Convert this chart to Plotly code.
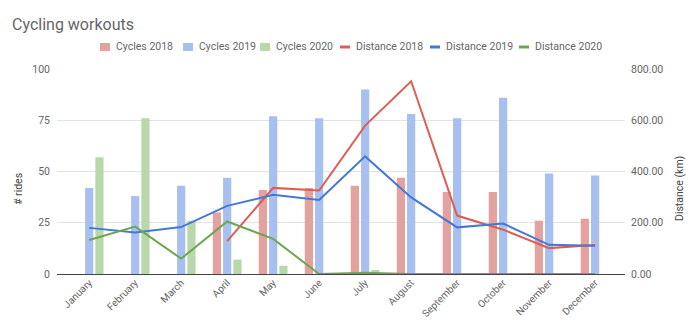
import plotly.graph_objects as go

months = ["January", "February", "March", "April", "May", "June", "July",
          "August", "September", "October", "November", "December"]
cycles_2018 = [None, None, None, 30, 41, 42, 43, 47, 40, 40, 26, 27]
cycles_2019 = [42, 38, 43, 47, 77, 76, 90, 78, 76, 86, 49, 48]
cycles_2020 = [57, 76, 26, 7, 4, None, 2, None, None, None, None, None]
distance_2018 = [None, None, None, 128, 336, 326, 579, 752, 228, 173, 101, 113]
distance_2019 = [180, 162, 183, 266, 309, 289, 459, 299, 182, 197, 114, 110]
distance_2020 = [133, 185, 60, 205, 137, 0, 5, 0, 0, 0, 0, 0]

FONT = "Roboto"
GRAY = "#666666"
W, H = 700, 332
ML, MR, MT, MB = 57, 75, 69, 58
PW, PH = W - ML - MR, H - MT - MB


def px2x(px):
    return (px - ML) / PW


def py2y(py):
    return (H - MB - py) / PH


fig = go.Figure()
bar_specs = [("Cycles 2018", cycles_2018, "#e3a19f"),
             ("Cycles 2019", cycles_2019, "#a8c0ef"),
             ("Cycles 2020", cycles_2020, "#b8d8aa")]
for name, vals, col in bar_specs:
    fig.add_trace(go.Bar(x=months, y=vals, name=name, marker_color=col,
                         marker_line_width=0, yaxis="y", showlegend=False))
line_specs = [("Distance 2018", distance_2018, "#db5f57"),
              ("Distance 2019", distance_2019, "#4477d6"),
              ("Distance 2020", distance_2020, "#6ca652")]
for name, vals, col in line_specs:
    fig.add_trace(go.Scatter(x=months, y=vals, name=name, mode="lines",
                             line=dict(color=col, width=2), yaxis="y2",
                             showlegend=False))

# compact legend (swatch + label), like the original chart's header legend
legend_x = [100, 183, 260, 340, 430, 519]
legend_y = 47
shapes = []
annotations = []
entries = [(n, c, "bar") for n, _, c in bar_specs] + [(n, c, "line") for n, _, c in line_specs]
for (name, col, kind), lx in zip(entries, legend_x):
    if kind == "bar":
        shapes.append(dict(type="rect", xref="paper", yref="paper",
                           x0=px2x(lx), x1=px2x(lx + 10),
                           y0=py2y(legend_y + 4), y1=py2y(legend_y - 4),
                           fillcolor=col, line=dict(width=0)))
    else:
        shapes.append(dict(type="line", xref="paper", yref="paper",
                           x0=px2x(lx), x1=px2x(lx + 10),
                           y0=py2y(legend_y), y1=py2y(legend_y),
                           line=dict(color=col, width=3)))
    annotations.append(dict(text=name, xref="paper", yref="paper",
                            x=px2x(lx + 14), y=py2y(legend_y),
                            xanchor="left", yanchor="middle", showarrow=False,
                            font=dict(family=FONT, size=10.5, color=GRAY)))

# axis titles
annotations.append(dict(text="# rides", xref="paper", yref="paper",
                        x=px2x(18), y=py2y(189), textangle=-90,
                        xanchor="center", yanchor="middle", showarrow=False,
                        font=dict(family=FONT, size=10.5, color="#444444")))
annotations.append(dict(text="Distance (km)", xref="paper", yref="paper",
                        x=px2x(679), y=py2y(189), textangle=-90,
                        xanchor="center", yanchor="middle", showarrow=False,
                        font=dict(family=FONT, size=10.5, color="#444444")))

fig.update_layout(
    width=W, height=H,
    margin=dict(l=ML, r=MR, t=MT, b=MB, autoexpand=False),
    paper_bgcolor="white", plot_bgcolor="white",
    font=dict(family=FONT, color=GRAY, size=10.5),
    title=dict(text="Cycling workouts", x=12/W, xanchor="left",
               y=1-24/H, yanchor="middle",
               font=dict(family=FONT, size=16, color="#666666")),
    barmode="group", bargap=0.33, bargroupgap=0.2,
    showlegend=False,
    shapes=shapes, annotations=annotations,
    xaxis=dict(range=[-0.7, 11.65], tickangle=-45, showgrid=False,
               tickfont=dict(size=10, color=GRAY), ticks="", automargin=False,
               showline=False, zeroline=False),
    yaxis=dict(range=[0, 100], tickvals=[0, 25, 50, 75, 100],
               gridcolor="#e3e3e3", gridwidth=1, zeroline=True,
               zerolinecolor="#444444", zerolinewidth=1,
               tickfont=dict(size=10.5, color=GRAY), automargin=False, ticklen=0,
               ticklabelstandoff=6),
    yaxis2=dict(range=[0, 800], tickvals=[0, 200, 400, 600, 800],
                tickformat=".2f", overlaying="y", side="right",
                showgrid=False, zeroline=False,
                tickfont=dict(size=10.5, color=GRAY), automargin=False,
                ticklabelstandoff=5),
)

fig.write_html("out.html")
